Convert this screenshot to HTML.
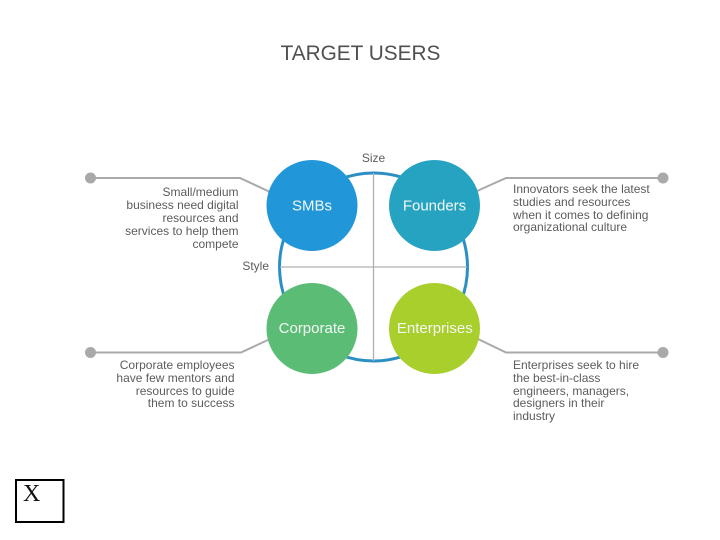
<!DOCTYPE html>
<html>
<head>
<meta charset="utf-8">
<style>
html,body{margin:0;padding:0;background:#fff;width:720px;height:540px;overflow:hidden}
svg{display:block}
text{font-family:"Liberation Sans",Arial,sans-serif;font-size:12px;fill:#5c5c5c}
.c{fill:#f4f8f4;font-size:15px;text-anchor:middle}
.r{text-anchor:end}
</style>
</head>
<body>
<svg width="720" height="540" viewBox="0 0 720 540" xmlns="http://www.w3.org/2000/svg">
<rect width="720" height="540" fill="#fff"/>
<text x="360.5" y="60" style="font-size:20.800px;fill:#505050" text-anchor="middle">TARGET USERS</text>
<text x="373.5" y="162" text-anchor="middle">Size</text>
<text x="269" y="270" class="r">Style</text>

<circle cx="373.5" cy="267" r="94" fill="none" stroke="#2b8fc4" stroke-width="3"/>
<line x1="373.5" y1="173" x2="373.5" y2="361" stroke="#b0b0b0" stroke-width="1.3"/>
<line x1="280" y1="267" x2="467" y2="267" stroke="#b0b0b0" stroke-width="1.3"/>

<g fill="none" stroke="#a9a9a9" stroke-width="2">
<polyline points="90,178 240,178 270,192"/>
<polyline points="663,178 506,178 477,191"/>
<polyline points="90,352.500 241,352.500 270,339"/>
<polyline points="663,352.500 506,352.500 478,339"/>
</g>
<g fill="#a9a9a9">
<circle cx="90.500" cy="178" r="5.500"/>
<circle cx="663" cy="178" r="5.500"/>
<circle cx="90.500" cy="352.500" r="5.500"/>
<circle cx="663" cy="352.500" r="5.500"/>
</g>

<circle cx="312" cy="205.500" r="45.500" fill="#2196d8"/>
<circle cx="434.500" cy="205.500" r="45.500" fill="#27a3c2"/>
<circle cx="312" cy="328.500" r="45.500" fill="#5bbd75"/>
<circle cx="434.500" cy="328.500" r="45.500" fill="#a9cf2c"/>
<text x="312" y="210.500" class="c">SMBs</text>
<text x="434.500" y="210.500" class="c">Founders</text>
<text x="312" y="333" class="c">Corporate</text>
<text x="434.800" y="333" class="c">Enterprises</text>

<text x="238.500" y="196" class="r">Small/medium</text>
<text x="238.500" y="209" class="r">business need digital</text>
<text x="238.500" y="222" class="r">resources and</text>
<text x="238.500" y="235" class="r">services to help them</text>
<text x="238.500" y="248" class="r">compete</text>
<text x="234.500" y="369" class="r">Corporate employees</text>
<text x="234.500" y="382" class="r">have few mentors and</text>
<text x="234.500" y="395" class="r">resources to guide</text>
<text x="234.500" y="407" class="r">them to success</text>

<text x="513" y="193">Innovators seek the latest</text>
<text x="513" y="206">studies and resources</text>
<text x="513" y="219">when it comes to defining</text>
<text x="513" y="231">organizational culture</text>

<text x="513" y="369">Enterprises seek to hire</text>
<text x="513" y="382">the best-in-class</text>
<text x="513" y="395">engineers, managers,</text>
<text x="513" y="407">designers in their</text>
<text x="513" y="420">industry</text>

<rect x="16" y="480" width="47.500" height="42" fill="#fff" stroke="#000" stroke-width="2"/>
<text x="23" y="501" style="font-family:'Liberation Serif',serif;font-size:24px;fill:#111">X</text>
</svg>
</body>
</html>
